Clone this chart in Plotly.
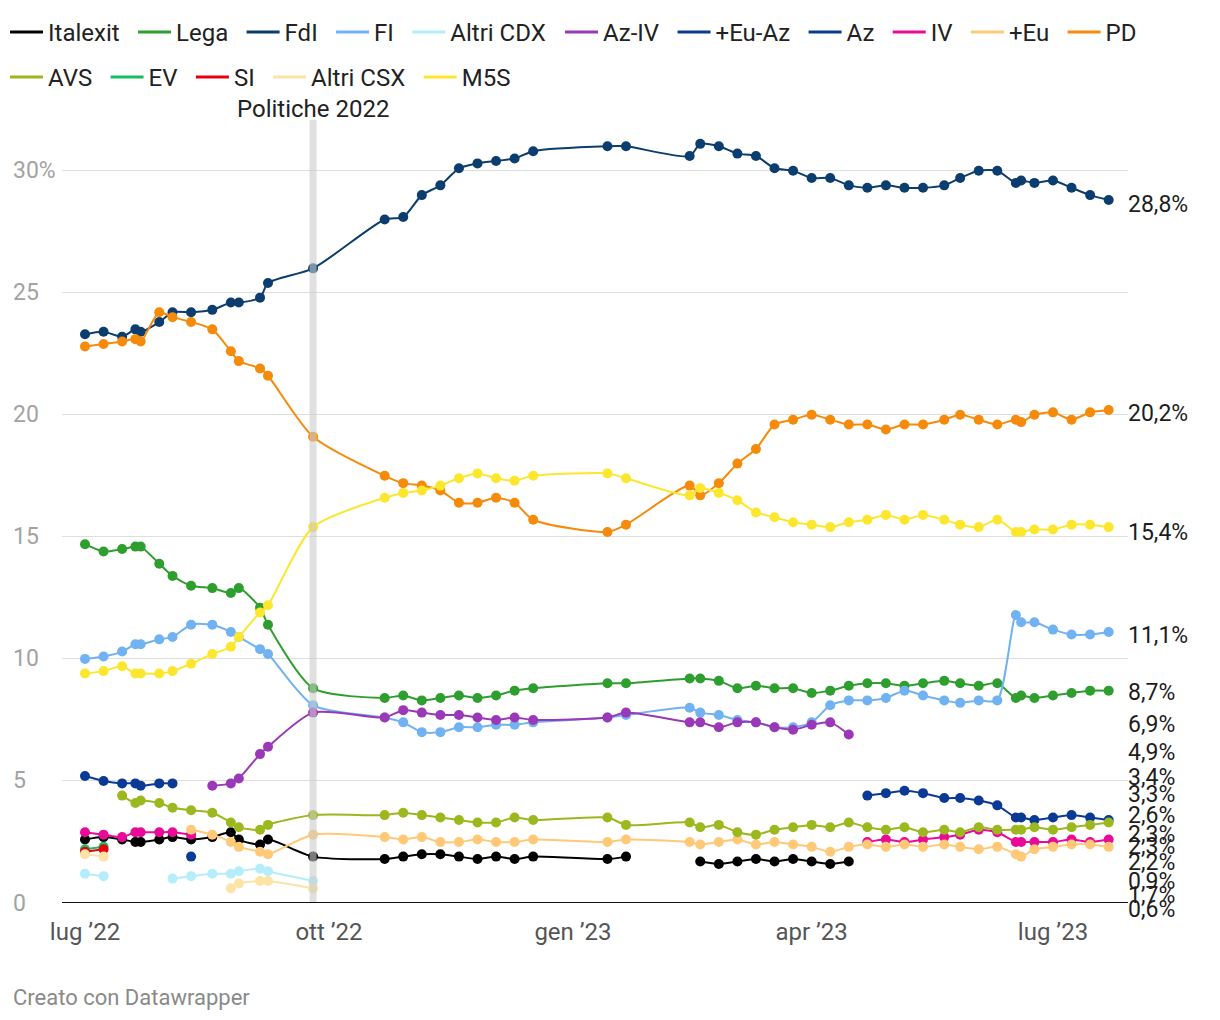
import plotly.graph_objects as go
import pandas as pd

N = None
dates = ["2022-07-01","2022-07-08","2022-07-15","2022-07-20","2022-07-22","2022-07-29","2022-08-03",
         "2022-08-10","2022-08-18","2022-08-25","2022-08-28","2022-09-05","2022-09-08","2022-09-25",
         "2022-10-22","2022-10-29","2022-11-05","2022-11-12","2022-11-19","2022-11-26","2022-12-03",
         "2022-12-10","2022-12-17","2023-01-14","2023-01-21",
         "2023-02-14","2023-02-18","2023-02-25","2023-03-04","2023-03-11","2023-03-18","2023-03-25",
         "2023-04-01","2023-04-08","2023-04-15","2023-04-22","2023-04-29","2023-05-06","2023-05-13",
         "2023-05-21","2023-05-27","2023-06-03","2023-06-10","2023-06-17","2023-06-19","2023-06-24",
         "2023-07-01","2023-07-08","2023-07-15","2023-07-22"]

italexit = [2.6, 2.7, 2.6, 2.5, 2.5, 2.6, 2.7, 2.6, 2.7, 2.9, 2.6, 2.4, 2.6, 1.9,
            1.8, 1.9, 2.0, 2.0, 1.9, 1.8, 1.9, 1.8, 1.9, 1.8, 1.9,
            N, 1.7, 1.6, 1.7, 1.8, 1.7, 1.8, 1.7, 1.6, 1.7] + [N] * 15
lega = [14.7, 14.4, 14.5, 14.6, 14.6, 13.9, 13.4, 13.0, 12.9, 12.7, 12.9, 12.1, 11.4, 8.8,
        8.4, 8.5, 8.3, 8.4, 8.5, 8.4, 8.5, 8.7, 8.8, 9.0, 9.0,
        9.2, 9.2, 9.1, 8.8, 8.9, 8.8, 8.8, 8.6, 8.7, 8.9, 9.0, 9.0, 8.9, 9.0, 9.1,
        9.0, 8.9, 9.0, 8.4, 8.5, 8.4, 8.5, 8.6, 8.7, 8.7]
fdi = [23.3, 23.4, 23.2, 23.5, 23.4, 23.8, 24.2, 24.2, 24.3, 24.6, 24.6, 24.8, 25.4, 26.0,
       28.0, 28.1, 29.0, 29.4, 30.1, 30.3, 30.4, 30.5, 30.8, 31.0, 31.0,
       30.6, 31.1, 31.0, 30.7, 30.6, 30.1, 30.0, 29.7, 29.7, 29.4, 29.3, 29.4, 29.3, 29.3, 29.4,
       29.7, 30.0, 30.0, 29.5, 29.6, 29.5, 29.6, 29.3, 29.0, 28.8]
fi = [10.0, 10.1, 10.3, 10.6, 10.6, 10.8, 10.9, 11.4, 11.4, 11.1, 10.9, 10.4, 10.2, 8.1,
      7.6, 7.4, 7.0, 7.0, 7.2, 7.2, 7.3, 7.3, 7.4, 7.6, 7.7,
      8.0, 7.8, 7.7, 7.5, 7.4, 7.2, 7.2, 7.4, 8.1, 8.3, 8.3, 8.4, 8.7, 8.5, 8.3,
      8.2, 8.3, 8.3, 11.8, 11.5, 11.5, 11.2, 11.0, 11.0, 11.1]
altri_cdx = [1.2, 1.1, N, N, N, N, 1.0, 1.1, 1.2, 1.2, 1.3, 1.4, 1.3, 0.9] + [N] * 36
az_iv = [N] * 8 + [4.8, 4.9, 5.1, 6.1, 6.4, 7.8,
                   7.6, 7.9, 7.8, 7.7, 7.7, 7.6, 7.5, 7.6, 7.5, 7.6, 7.8,
                   7.4, 7.4, 7.2, 7.4, 7.4, 7.2, 7.1, 7.3, 7.4, 6.9] + [N] * 15
eu_az = [5.2, 5.0, 4.9, 4.9, 4.8, 4.9, 4.9] + [N] * 43
az = [N] * 7 + [1.9] + [N] * 27 + [4.4, 4.5, 4.6, 4.5, 4.3, 4.3, 4.2, 4.0, 3.5, 3.5, 3.4, 3.5, 3.6, 3.5, 3.4]
iv = [2.9, 2.8, 2.7, 2.9, 2.9, 2.9, 2.9, 2.8] + [N] * 27 + \
     [2.5, 2.6, 2.5, 2.6, 2.7, 2.8, 3.0, 2.9, 2.5, 2.5, 2.5, 2.5, 2.6, 2.5, 2.6]
piu_eu = [N] * 7 + [3.0, 2.8, 2.5, 2.3, 2.1, 2.0, 2.8,
                    2.7, 2.6, 2.7, 2.5, 2.5, 2.6, 2.5, 2.5, 2.6, 2.5, 2.6,
                    2.5, 2.4, 2.5, 2.6, 2.4, 2.5, 2.4, 2.3, 2.1, 2.3, 2.4, 2.3, 2.4, 2.3, 2.4,
                    2.3, 2.2, 2.3, 2.0, 1.9, 2.2, 2.3, 2.4, 2.4, 2.3]
pd_ = [22.8, 22.9, 23.0, 23.1, 23.0, 24.2, 24.0, 23.8, 23.5, 22.6, 22.2, 21.9, 21.6, 19.1,
       17.5, 17.2, 17.1, 16.9, 16.4, 16.4, 16.6, 16.4, 15.7, 15.2, 15.5,
       17.1, 16.7, 17.2, 18.0, 18.6, 19.6, 19.8, 20.0, 19.8, 19.6, 19.6, 19.4, 19.6, 19.6, 19.8,
       20.0, 19.8, 19.6, 19.8, 19.7, 20.0, 20.1, 19.8, 20.1, 20.2]
avs = [N, N, 4.4, 4.1, 4.2, 4.1, 3.9, 3.8, 3.7, 3.3, 3.1, 3.0, 3.2, 3.6,
       3.6, 3.7, 3.6, 3.5, 3.4, 3.3, 3.3, 3.5, 3.4, 3.5, 3.2,
       3.3, 3.1, 3.2, 2.9, 2.8, 3.0, 3.1, 3.2, 3.1, 3.3, 3.1, 3.0, 3.1, 2.9, 3.0,
       2.9, 3.1, 3.0, 3.0, 3.0, 3.1, 3.0, 3.1, 3.2, 3.3]
ev = [2.2, 2.3] + [N] * 48
si = [2.1, 2.2] + [N] * 48
altri_csx = [2.0, 1.9] + [N] * 7 + [0.6, 0.8, 0.9, 0.9, 0.6] + [N] * 36
m5s = [9.4, 9.5, 9.7, 9.4, 9.4, 9.4, 9.5, 9.8, 10.2, 10.5, 10.9, 11.9, 12.2, 15.4,
       16.6, 16.8, 16.9, 17.1, 17.4, 17.6, 17.4, 17.3, 17.5, 17.6, 17.4,
       16.7, 17.0, 16.8, 16.5, 16.0, 15.8, 15.6, 15.5, 15.4, 15.6, 15.7, 15.9, 15.7, 15.9, 15.7,
       15.5, 15.4, 15.7, 15.2, 15.2, 15.3, 15.3, 15.5, 15.5, 15.4]

names = ["Italexit", "Lega", "FdI", "FI", "Altri CDX", "Az-IV", "+Eu-Az", "Az", "IV", "+Eu", "PD",
         "AVS", "EV", "SI", "Altri CSX", "M5S"]
values = [italexit, lega, fdi, fi, altri_cdx, az_iv, eu_az, az, iv, piu_eu, pd_,
          avs, ev, si, altri_csx, m5s]
colors = ["#000000", "#2e9e2e", "#0b3d6e", "#70b2f2", "#b5eefa", "#9a38b8", "#0a3a96", "#0a3a96",
          "#ea0a98", "#ffc978", "#f68a0a", "#9cb81f", "#16c060", "#e8000c", "#fde3a6", "#fde72e"]
legend_group = ["legend"] * 5 + ["legend3"] * 6 + ["legend2"] * 5

xticks = ["2022-07-01", "2022-10-01", "2023-01-01", "2023-04-01", "2023-07-01"]
xticktext = ["lug \u201922", "ott \u201922", "gen \u201923", "apr \u201923", "lug \u201923"]
yticks = [0, 5, 10, 15, 20, 25, 30]
yticktext = ["0", "5", "10", "15", "20", "25", "30%"]
election_date = "2022-09-25"

# layout geometry (pixels)
W, H = 1220, 1020
PLOT_L, PLOT_R, PLOT_T, PLOT_B = 62, 1128, 120, 903
PLOT_H = PLOT_B - PLOT_T
PX_PER_UNIT = 24.41
PX_PER_DAY = 2.652
X0_PX = 85  # pixel of 2022-07-01
label_px = {"FdI": 204, "PD": 414, "M5S": 532, "FI": 635, "Lega": 692, "Az-IV": 724, "+Eu-Az": 752,
            "Az": 777, "AVS": 794, "IV": 815, "+Eu": 834, "EV": 846, "SI": 862, "Altri CDX": 881,
            "Italexit": 895, "Altri CSX": 909}

base = pd.Timestamp("2022-07-01")
x_start = base + pd.Timedelta(days=(PLOT_L - X0_PX) / PX_PER_DAY)
x_end = base + pd.Timedelta(days=(PLOT_R - X0_PX) / PX_PER_DAY)
y_max = PLOT_H / PX_PER_UNIT

FONT = "Roboto"
FS = 24
fig = go.Figure()

for i in range(len(names)):
    fig.add_trace(go.Scatter(
        x=dates, y=values[i], mode="lines+markers", connectgaps=False,
        line=dict(color=colors[i], width=2, shape="spline", smoothing=0.7),
        marker=dict(size=10, color=colors[i], line=dict(width=0)),
        showlegend=False, cliponaxis=False, hoverinfo="skip"))

for i, nm in enumerate(names):
    fig.add_trace(go.Scatter(
        x=[None], y=[None], mode="lines", name=nm + "\u00a0\u200a",
        line=dict(color=colors[i], width=3), legend=legend_group[i]))

annotations = []
for t, v in zip(yticktext, yticks):
    annotations.append(dict(xref="paper", x=0, xanchor="left", xshift=11 - PLOT_L, yref="y", y=v,
                            yanchor="middle", text=t, showarrow=False,
                            font=dict(family=FONT, size=FS - 1, color="#a3a3a3")))
for i, nm in enumerate(names):
    last = [v for v in values[i] if v is not None][-1]
    txt = f"{last:.1f}".replace(".", ",") + "%"
    annotations.append(dict(xref="paper", x=1, xanchor="left", xshift=-2, yref="paper",
                            y=(PLOT_B - label_px[nm]) / PLOT_H, yanchor="middle",
                            text=txt, showarrow=False,
                            font=dict(family=FONT, size=FS - 1, color="#1d1d1d")))
annotations.append(dict(xref="x", x=election_date, yref="paper",
                        y=1 + (PLOT_T - 109) / PLOT_H, yanchor="middle",
                        xanchor="center", text="Politiche 2022", showarrow=False,
                        font=dict(family=FONT, size=FS, color="#222222")))
annotations.append(dict(xref="paper", x=0, xanchor="left", xshift=11 - PLOT_L, yref="paper",
                        y=-(997 - PLOT_B) / PLOT_H, yanchor="middle",
                        text="Creato con Datawrapper", showarrow=False,
                        font=dict(family=FONT, size=22, color="#8a8a8a")))

shapes = [
    dict(type="line", xref="x", x0=election_date, x1=election_date, yref="y", y0=0, y1=y_max,
         line=dict(color="#cccccc", width=7), opacity=0.6, layer="above"),
    dict(type="line", xref="paper", x0=0, x1=1, yref="y", y0=0, y1=0,
         line=dict(color="#111111", width=2), layer="above"),
]

legend_common = dict(orientation="h", xref="container", yref="container",
                     xanchor="left", yanchor="top", font=dict(family=FONT, size=FS, color="#222222"),
                     bgcolor="rgba(0,0,0,0)", itemwidth=33)

fig.update_layout(
    width=W, height=H,
    margin=dict(l=PLOT_L, r=W - PLOT_R, t=PLOT_T, b=H - PLOT_B, pad=0),
    paper_bgcolor="white", plot_bgcolor="white",
    font=dict(family=FONT, size=FS, color="#222222"),
    xaxis=dict(type="date", range=[x_start, x_end], tickvals=xticks, ticktext=xticktext,
               showgrid=False, zeroline=False, showline=False, ticks="",
               ticklabelstandoff=12,
               tickfont=dict(family=FONT, size=FS, color="#555555")),
    yaxis=dict(range=[0, y_max], tickvals=yticks, showticklabels=False, showgrid=True,
               gridcolor="#dedede", gridwidth=1, zeroline=False, showline=False),
    legend=dict(legend_common, x=5 / W, y=1 - 10 / H),
    legend3=dict(legend_common, x=560 / W, y=1 - 10 / H),
    legend2=dict(legend_common, x=5 / W, y=1 - 55 / H),
    annotations=annotations, shapes=shapes, showlegend=True, hovermode=False,
)

fig.write_html("out.html", config={"displayModeBar": False},
               post_script="document.body.style.margin='0px';")
